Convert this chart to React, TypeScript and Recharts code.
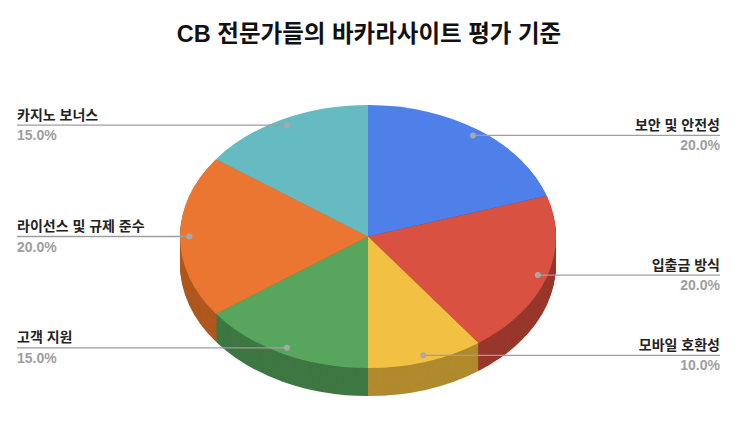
import React from "react"
import { PieChart, Pie, Cell } from "recharts"

// slice order: clockwise from 12 o'clock
const categories = ["보안 및 안전성", "입출금 방식", "모바일 호환성", "고객 지원", "라이선스 및 규제 준수", "카지노 보너스"]
const shares = [20, 20, 10, 15, 20, 15]
const topColors = ["#4f7fe9", "#d95140", "#f2c043", "#58a65d", "#ea7631", "#66bbc3"]
const sideColors = ["#34569e", "#99372c", "#b08a2d", "#3e7742", "#b0581f", "#468890"]

const title = "CB 전문가들의 바카라사이트 평가 기준"

const W = 740
const H = 441
const CX = 368
const CY = 236.5
const RX = 188
const RATIO = 131.5 / 188 // vertical squash of the 3D disc
const DEPTH = 28 // thickness in screen px
const FONT = "'Liberation Sans', 'Noto Sans CJK KR', Arial, sans-serif"

const data = categories.map((name, i) => ({ name, value: shares[i] }))

// stacked copies of the pie, from bottom to top, make the side wall
const sideOffsets: number[] = []
for (let d = DEPTH / RATIO; d > 0; d -= 1.5) sideOffsets.push(d)

const RAD = Math.PI / 180

function renderLabel(props: any) {
  const { cx, cy, midAngle, outerRadius, index, percent } = props
  const f = 0.95
  const x = cx + outerRadius * f * Math.cos(midAngle * RAD)
  const y = cy - outerRadius * f * Math.sin(midAngle * RAD) * RATIO
  const left = x < cx
  const edge = left ? 17 : 720
  return (
    <g key={`lbl-${index}`}>
      <line x1={edge} y1={y} x2={x} y2={y} stroke="#9e9e9e" strokeWidth={1.3} />
      <circle cx={x} cy={y} r={3} fill="#a8a8a8" />
      <text x={edge} y={y - 5.5} textAnchor={left ? "start" : "end"} fontSize={14} fontWeight={700} fill="#222" fontFamily={FONT}>
        {categories[index]}
      </text>
      <text x={edge} y={y + 15} textAnchor={left ? "start" : "end"} fontSize={14} fontWeight={700} fill="#9e9e9e" fontFamily={FONT}>
        {`${(percent * 100).toFixed(1)}%`}
      </text>
    </g>
  )
}

export default function App() {
  const hU = H / RATIO
  const cyU = CY / RATIO
  return (
    <div style={{ position: "absolute", left: 0, top: 0, width: W, height: H, background: "#fff", overflow: "hidden" }}>
      <div style={{ position: "absolute", left: 0, top: 0, width: W, height: hU, transform: `scaleY(${RATIO})`, transformOrigin: "0 0" }}>
        <PieChart width={W} height={hU} margin={{ top: 0, right: 0, bottom: 0, left: 0 }}>
          {sideOffsets.map((d) => (
            <Pie
              key={`side-${d}`}
              data={data}
              dataKey="value"
              cx={CX}
              cy={cyU + d}
              outerRadius={RX}
              startAngle={90}
              endAngle={-270}
              stroke="none"
              isAnimationActive={false}
            >
              {data.map((_, i) => (
                <Cell key={`s-${i}`} fill={sideColors[i]} />
              ))}
            </Pie>
          ))}
          <Pie
            data={data}
            dataKey="value"
            cx={CX}
            cy={cyU}
            outerRadius={RX}
            startAngle={90}
            endAngle={-270}
            stroke="none"
            isAnimationActive={false}
          >
            {data.map((_, i) => (
              <Cell key={`t-${i}`} fill={topColors[i]} />
            ))}
          </Pie>
        </PieChart>
      </div>
      <div style={{ position: "absolute", left: 0, top: 0, width: W, height: H }}>
        <PieChart width={W} height={H} margin={{ top: 0, right: 0, bottom: 0, left: 0 }}>
          <Pie
            data={data}
            dataKey="value"
            cx={CX}
            cy={CY}
            outerRadius={RX}
            startAngle={90}
            endAngle={-270}
            fill="none"
            stroke="none"
            labelLine={false}
            label={renderLabel}
            isAnimationActive={false}
          />
        </PieChart>
      </div>
      <svg width={W} height={60} style={{ position: "absolute", left: 0, top: 0 }}>
        <text x={369} y={42} textAnchor="middle" fontFamily={FONT} fontWeight={700} fontSize={23.5} fill="#111">
          {title}
        </text>
      </svg>
    </div>
  )
}
